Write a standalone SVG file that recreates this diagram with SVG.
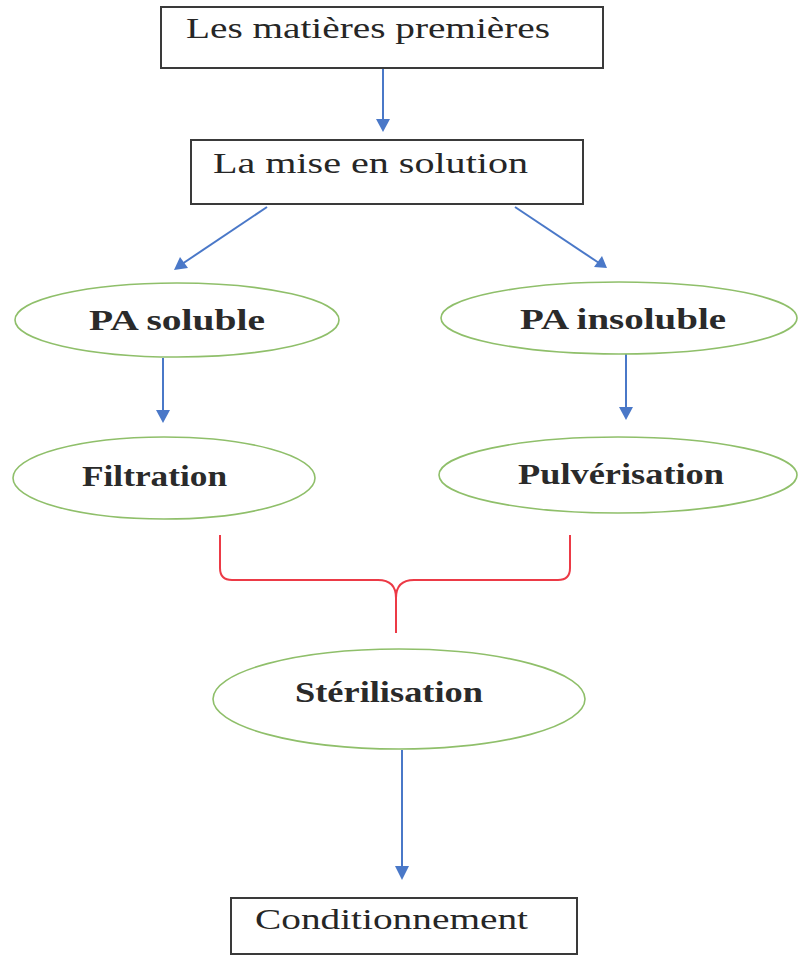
<svg xmlns="http://www.w3.org/2000/svg" width="799" height="957" viewBox="0 0 799 957">
  <style>
    .box { fill: #ffffff; stroke: #3a3a3a; stroke-width: 2; }
    .oval { fill: #ffffff; stroke: #8fbf6a; stroke-width: 1.6; }
    .lbl { font-family: "Liberation Serif", "Times New Roman", serif; font-size: 30px; fill: #262626; }
    .olbl { font-family: "Liberation Serif", "Times New Roman", serif; font-size: 29px; font-weight: bold; fill: #2a2a2a; }
    .brace { stroke: #ec3a46; stroke-width: 2; fill: none; }
    .flow { stroke: #4a78c8; stroke-width: 2; }
    .head { fill: #4a78c8; }
  </style>
  <rect width="799" height="957" fill="#ffffff"/>

  <g id="connectors">
    <line class="flow" x1="383" y1="69" x2="383" y2="122"/>
    <path class="head" d="M376,119 L390,119 L383,132 Z"/>
    <line class="flow" x1="267" y1="207" x2="182" y2="264"/>
    <path class="head" d="M174,270 L180,257 L188,268 Z"/>
    <line class="flow" x1="515" y1="207" x2="599" y2="263"/>
    <path class="head" d="M607,268 L594,267 L602,256 Z"/>
    <line class="flow" x1="163" y1="358" x2="163" y2="412"/>
    <path class="head" d="M156,410 L170,410 L163,423 Z"/>
    <line class="flow" x1="626" y1="354" x2="626" y2="409"/>
    <path class="head" d="M619,407 L633,407 L626,420 Z"/>
    <line class="flow" x1="402" y1="750" x2="402" y2="868"/>
    <path class="head" d="M395,866 L409,866 L402,880 Z"/>
    <path class="brace" d="M220,535 L220,568 Q220,580 232,580 L378,580 Q396,580 396,598 L396,633 M396,598 Q396,580 414,580 L558,580 Q570,580 570,568 L570,535"/>
  </g>

  <g id="n-matieres">
    <rect class="box" x="161" y="7" width="442" height="61"/>
    <text class="lbl" x="186" y="38" textLength="364" lengthAdjust="spacingAndGlyphs">Les matières premières</text>
  </g>

  <g id="n-solution">
    <rect class="box" x="191" y="140" width="392" height="64"/>
    <text class="lbl" x="213" y="173" textLength="315" lengthAdjust="spacingAndGlyphs">La mise en solution</text>
  </g>

  <g id="n-soluble">
    <ellipse class="oval" cx="177" cy="320" rx="162" ry="37"/>
    <text class="olbl" x="89" y="330" textLength="176" lengthAdjust="spacingAndGlyphs">PA soluble</text>
  </g>

  <g id="n-insoluble">
    <ellipse class="oval" cx="619" cy="318" rx="178" ry="36"/>
    <text class="olbl" x="520" y="329" textLength="206" lengthAdjust="spacingAndGlyphs">PA insoluble</text>
  </g>

  <g id="n-filtration">
    <ellipse class="oval" cx="164" cy="478" rx="151" ry="41"/>
    <text class="olbl" x="82" y="486" textLength="145" lengthAdjust="spacingAndGlyphs">Filtration</text>
  </g>

  <g id="n-pulverisation">
    <ellipse class="oval" cx="618" cy="475" rx="179" ry="38"/>
    <text class="olbl" x="518" y="484" textLength="206" lengthAdjust="spacingAndGlyphs">Pulvérisation</text>
  </g>

  <g id="n-sterilisation">
    <ellipse class="oval" cx="399" cy="699" rx="186" ry="50"/>
    <text class="olbl" x="295" y="702" textLength="188" lengthAdjust="spacingAndGlyphs">Stérilisation</text>
  </g>

  <g id="n-conditionnement">
    <rect class="box" x="231" y="898" width="346" height="56"/>
    <text class="lbl" x="255" y="929" textLength="273" lengthAdjust="spacingAndGlyphs">Conditionnement</text>
  </g>
</svg>
